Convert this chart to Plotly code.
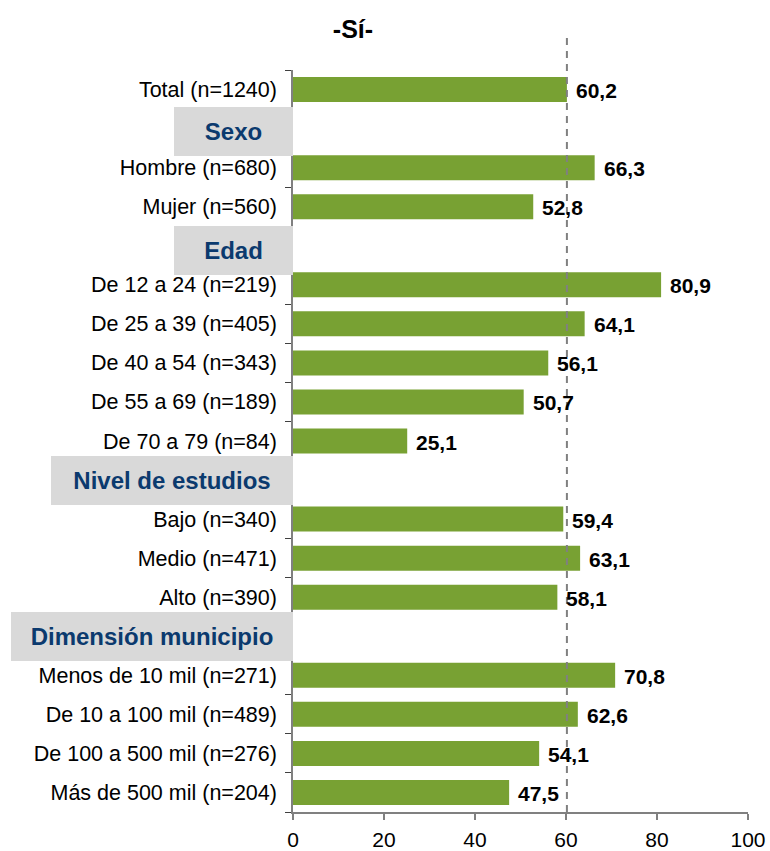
import plotly.graph_objects as go

# ---- data ----
categories = [
    "Total (n=1240)",
    "Sexo",
    "Hombre (n=680)", "Mujer (n=560)",
    "Edad",
    "De 12 a 24 (n=219)", "De 25 a 39 (n=405)", "De 40 a 54 (n=343)",
    "De 55 a 69 (n=189)", "De 70 a 79 (n=84)",
    "Nivel de estudios",
    "Bajo (n=340)", "Medio (n=471)", "Alto (n=390)",
    "Dimensión municipio",
    "Menos de 10 mil (n=271)", "De 10 a 100 mil (n=489)",
    "De 100 a 500 mil (n=276)", "Más de 500 mil (n=204)",
]
values = [
    60.2,
    None,
    66.3, 52.8,
    None,
    80.9, 64.1, 56.1, 50.7, 25.1,
    None,
    59.4, 63.1, 58.1,
    None,
    70.8, 62.6, 54.1, 47.5,
]
headers = ["Sexo", "Edad", "Nivel de estudios", "Dimensión municipio"]
reference_value = 60.2  # Total
title_text = "-Sí-"
x_ticks = [0, 20, 40, 60, 80, 100]

# ---- style ----
FONT = "Liberation Sans, Arial, sans-serif"
BAR_COLOR = "#78A133"
HEADER_BG = "#D9D9D9"
HEADER_FG = "#0B3A6E"
AXIS_COLOR = "#808080"
header_box_width = {"Sexo": 119, "Edad": 119, "Nivel de estudios": 242,
                    "Dimensión municipio": 282}
header_yshift = {"Sexo": -3, "Edad": -5, "Nivel de estudios": 0,
                 "Dimensión municipio": 0}

tick_text = ["" if c in headers else c for c in categories]

fig = go.Figure()
fig.add_trace(go.Bar(
    y=categories, x=values, orientation="h",
    marker=dict(color=BAR_COLOR, line=dict(width=0)),
    width=0.64,
    hoverinfo="skip",
))

# value labels
for c, v in zip(categories, values):
    if v is None:
        continue
    fig.add_annotation(
        x=v, xref="x", y=c, yref="y", xanchor="left", yanchor="middle",
        xshift=7, yshift=-1, showarrow=False,
        text="<b>" + f"{v:.1f}".replace(".", ",") + "</b>",
        font=dict(family=FONT, size=21, color="black"),
    )

# reference dashed line at the total value
fig.add_shape(type="line", xref="x", yref="paper",
              x0=reference_value, x1=reference_value, y0=0, y1=1.047,
              line=dict(color=AXIS_COLOR, width=2, dash="7px,6px"), layer="above")

# group headers
for h in headers:
    fig.add_annotation(
        x=0, xref="paper", xanchor="right", y=h, yref="y", yanchor="middle",
        yshift=header_yshift[h],
        text=f"<b>{h}</b>", showarrow=False,
        font=dict(family=FONT, size=24, color=HEADER_FG),
        bgcolor=HEADER_BG, width=header_box_width[h], height=49,
        borderpad=0, borderwidth=0, align="center", valign="middle",
    )

fig.update_layout(
    width=770, height=851, autosize=False,
    margin=dict(l=293, r=22, t=70, b=39, autoexpand=False),
    plot_bgcolor="white", paper_bgcolor="white",
    showlegend=False, bargap=0.36,
    title=dict(text=f"<b>{title_text}</b>", x=353/770, xref="container",
               xanchor="center", y=1-29/851, yanchor="middle",
               font=dict(family=FONT, size=25, color="black")),
    font=dict(family=FONT, size=21, color="black"),
)
fig.update_xaxes(
    range=[0, 100], tickvals=x_ticks, ticktext=[str(t) for t in x_ticks],
    showgrid=False, zeroline=False, automargin=False,
    showline=True, linecolor=AXIS_COLOR, linewidth=1.5,
    ticks="outside", ticklen=6, tickcolor=AXIS_COLOR, tickwidth=1.5,
    ticklabelstandoff=2,
    tickfont=dict(family=FONT, size=21, color="black"),
)
fig.update_yaxes(
    type="category", categoryorder="array", categoryarray=categories,
    autorange="reversed", automargin=False,
    tickvals=categories, ticktext=tick_text,
    showgrid=False, zeroline=False,
    showline=True, linecolor=AXIS_COLOR, linewidth=1.5,
    ticks="outside", ticklen=6, tickcolor="#404040", tickwidth=1.2,
    tickson="boundaries", ticklabelstandoff=10,
    tickfont=dict(family=FONT, size=21.5, color="black"),
)

fig.write_html("out.html", config={"displayModeBar": False},
               post_script="document.body.style.margin='0';")
